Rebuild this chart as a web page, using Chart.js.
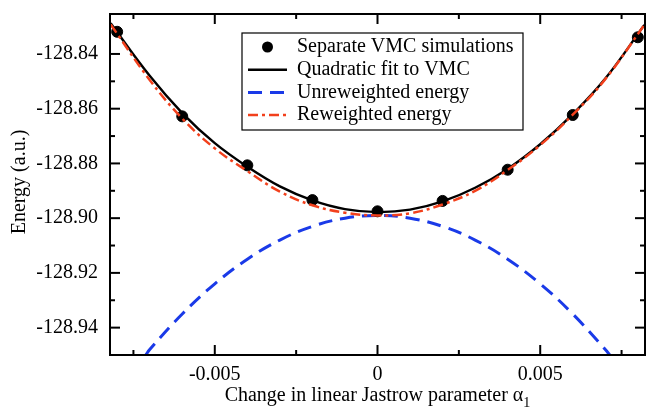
<!DOCTYPE html>
<html>
<head>
<meta charset="utf-8">
<script src="https://cdn.jsdelivr.net/npm/chart.js@4"></script>
<style>
  html, body { margin: 0; padding: 0; background: #fff; }
  canvas { display: block; }
</style>
</head>
<body>
<canvas id="energyChart" width="646" height="410"></canvas>
<script>
// separate VMC runs
const vmcAlpha = [-0.008, -0.006, -0.004, -0.002, 0, 0.002, 0.004, 0.006, 0.008]
const vmcEnergy = [-128.8319, -128.8628, -128.8807, -128.8934, -128.8975, -128.8937, -128.8823, -128.8623, -128.8339]

// fit + reweighted curves
const curveAlpha = [-0.0082, -0.007, -0.006, -0.005, -0.004, -0.003, -0.002, -0.001, 0, 0.001, 0.002, 0.003, 0.004, 0.005, 0.006, 0.007, 0.0082]
const fitEnergy = [-128.8288, -128.8480, -128.8616, -128.8726, -128.8812, -128.8884, -128.8935, -128.8967, -128.8978, -128.8969, -128.8939, -128.8889, -128.8820, -128.8730, -128.8620, -128.8490, -128.8294]
const reweightedEnergy = [-128.8292, -128.8495, -128.8636, -128.8745, -128.8828, -128.8903, -128.8953, -128.8980, -128.8990, -128.8982, -128.8950, -128.8900, -128.8824, -128.8733, -128.8622, -128.8492, -128.8294]

// unreweighted curve (cut at the bottom of the axis)
const unweightedAlpha = [-0.00712, -0.007, -0.006, -0.005, -0.004, -0.003, -0.002, -0.001, 0, 0.001, 0.002, 0.003, 0.004, 0.005, 0.006, 0.007, 0.00714]
const unweightedEnergy = [-128.9500, -128.9480, -128.9350, -128.9240, -128.9150, -128.9080, -128.9030, -128.9000, -128.8990, -128.9000, -128.9030, -128.9080, -128.9150, -128.9240, -128.9350, -128.9480, -128.9500]

// ticks
const xMajor = [-0.005, 0, 0.005]
const xMinor = [-0.0075, -0.0025, 0.0025, 0.0075]
const xLabels = ['-0.005', '0', '0.005']
const yMajor = [-128.94, -128.92, -128.90, -128.88, -128.86, -128.84]
const yMinor = [-128.93, -128.91, -128.89, -128.87, -128.85]
const yLabels = ['-128.94', '-128.92', '-128.90', '-128.88', '-128.86', '-128.84']

const serif = '"Liberation Serif", "Times New Roman", serif'

function pts(xs, ys) {
    return xs.map((x, i) => ({x: x, y: ys[i]}))
}

// box around the plot, ticks pointing inwards, axis titles
const frame = {
    id: 'frame',
    afterDraw(chart) {
        const ctx = chart.ctx
        const a = chart.chartArea
        const x = chart.scales.x
        const y = chart.scales.y
        ctx.save()
        ctx.strokeStyle = '#000'
        ctx.lineWidth = 2
        ctx.strokeRect(a.left, a.top, a.right - a.left, a.bottom - a.top)
        const line = (x1, y1, x2, y2) => {
            ctx.beginPath(); ctx.moveTo(x1, y1); ctx.lineTo(x2, y2); ctx.stroke()
        }
        xMajor.forEach(v => {
            const p = x.getPixelForValue(v)
            line(p, a.bottom, p, a.bottom - 10); line(p, a.top, p, a.top + 10)
        })
        xMinor.forEach(v => {
            const p = x.getPixelForValue(v)
            line(p, a.bottom, p, a.bottom - 5); line(p, a.top, p, a.top + 5)
        })
        yMajor.forEach(v => {
            const p = y.getPixelForValue(v)
            line(a.left, p, a.left + 10, p); line(a.right, p, a.right - 10, p)
        })
        yMinor.forEach(v => {
            const p = y.getPixelForValue(v)
            line(a.left, p, a.left + 5, p); line(a.right, p, a.right - 5, p)
        })

        ctx.fillStyle = '#000'
        ctx.textBaseline = 'alphabetic'
        // x title with subscript
        const main = 'Change in linear Jastrow parameter α'
        ctx.font = '20px ' + serif
        const w1 = ctx.measureText(main).width
        ctx.font = '14px ' + serif
        const w2 = ctx.measureText('1').width
        const sx = (a.left + a.right) / 2 - (w1 + w2) / 2
        ctx.font = '20px ' + serif
        ctx.textAlign = 'left'
        ctx.fillText(main, sx, 401)
        ctx.font = '14px ' + serif
        ctx.fillText('1', sx + w1, 407)
        // y title
        ctx.translate(25, 182)
        ctx.rotate(-Math.PI / 2)
        ctx.font = '20px ' + serif
        ctx.textAlign = 'center'
        ctx.fillText('Energy (a.u.)', 0, 0)
        ctx.restore()
    }
}

// legend box inside the plot
const legendBox = {
    id: 'legendBox',
    afterDraw(chart) {
        const ctx = chart.ctx
        const bx = 242, by = 33, bw = 281, bh = 97
        ctx.save()
        ctx.fillStyle = '#fff'
        ctx.fillRect(bx, by, bw, bh)
        ctx.strokeStyle = '#000'
        ctx.lineWidth = 1.2
        ctx.strokeRect(bx, by, bw, bh)
        ctx.font = '20px ' + serif
        ctx.textBaseline = 'middle'
        ctx.textAlign = 'left'
        chart.data.datasets.forEach((ds, i) => {
            const cy = 46 + i * 22.7
            if (ds.showLine === false) {
                ctx.fillStyle = ds.pointBackgroundColor
                ctx.beginPath(); ctx.arc(267.5, cy + 1, ds.pointRadius, 0, Math.PI * 2); ctx.fill()
            } else {
                ctx.strokeStyle = ds.borderColor
                ctx.lineWidth = ds.borderWidth
                ctx.setLineDash(ds.borderDash || [])
                ctx.beginPath(); ctx.moveTo(248, cy + 1); ctx.lineTo(287, cy + 1); ctx.stroke()
                ctx.setLineDash([])
            }
            ctx.fillStyle = '#000'
            ctx.fillText(ds.label, 297, cy + 1)
        })
        ctx.restore()
    }
}

new Chart(document.getElementById('energyChart'), {
    type: 'scatter',
    data: {
        datasets: [
            {
                label: 'Separate VMC simulations',
                data: pts(vmcAlpha, vmcEnergy),
                showLine: false,
                pointRadius: 5.5,
                pointBackgroundColor: '#000',
                pointBorderColor: '#000',
                order: 3
            },
            {
                label: 'Quadratic fit to VMC',
                data: pts(curveAlpha, fitEnergy),
                showLine: true,
                borderColor: '#000',
                borderWidth: 2.4,
                pointRadius: 0,
                tension: 0.4,
                order: 2
            },
            {
                label: 'Unreweighted energy',
                data: pts(unweightedAlpha, unweightedEnergy),
                showLine: true,
                borderColor: '#1a3ae8',
                borderWidth: 3,
                borderDash: [14, 8],
                pointRadius: 0,
                tension: 0.4,
                order: 4
            },
            {
                label: 'Reweighted energy',
                data: pts(curveAlpha, reweightedEnergy),
                showLine: true,
                borderColor: '#f2401c',
                borderWidth: 2.5,
                borderDash: [10, 4, 3, 4],
                pointRadius: 0,
                tension: 0.4,
                order: 1
            }
        ]
    },
    options: {
        responsive: false,
        animation: false,
        layout: {autoPadding: false, padding: {top: 14, right: 1, left: 0, bottom: 0}},
        plugins: {legend: {display: false}, tooltip: {enabled: false}},
        scales: {
            x: {
                type: 'linear',
                min: -0.00822,
                max: 0.00822,
                afterBuildTicks: s => { s.ticks = xMajor.map(v => ({value: v})) },
                afterFit: s => { s.height = 55; s.paddingLeft = 0; s.paddingRight = 0 },
                grid: {display: false},
                border: {display: false},
                ticks: {
                    color: '#000',
                    padding: 0,
                    font: {family: serif, size: 20},
                    callback: (v, i) => xLabels[i]
                }
            },
            y: {
                type: 'linear',
                min: -128.95,
                max: -128.8254,
                afterBuildTicks: s => { s.ticks = yMajor.map(v => ({value: v})) },
                afterFit: s => { s.width = 110; s.paddingTop = 0; s.paddingBottom = 0 },
                grid: {display: false},
                border: {display: false},
                ticks: {
                    color: '#000',
                    padding: 4,
                    font: {family: serif, size: 20},
                    callback: (v, i) => yLabels[i]
                }
            }
        }
    },
    plugins: [frame, legendBox]
})
</script>
</body>
</html>
